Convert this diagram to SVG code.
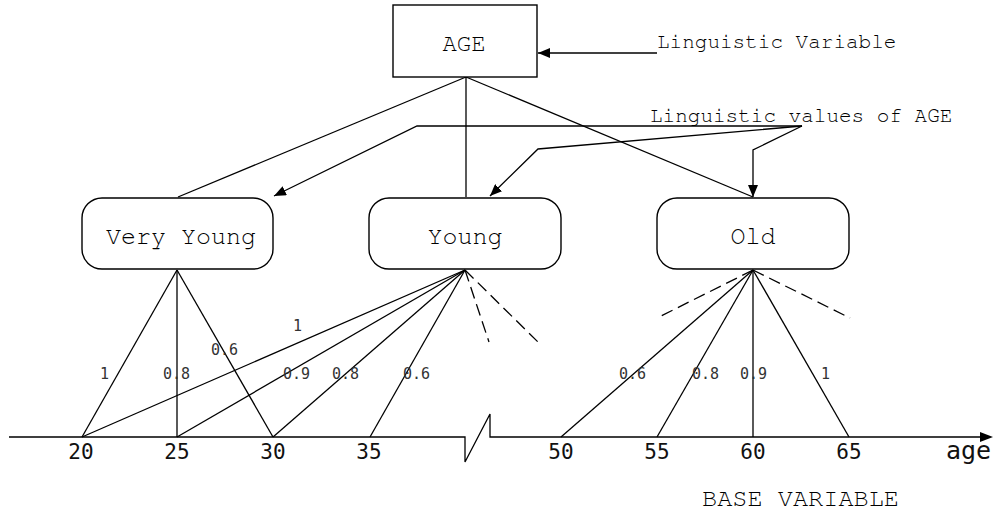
<svg xmlns="http://www.w3.org/2000/svg" width="995" height="512" viewBox="0 0 995 512">
<style>
.ln{stroke:#000;stroke-width:1.3;fill:none}
.dash{stroke:#000;stroke-width:1.3;fill:none;stroke-dasharray:12,6}
.box{stroke:#000;stroke-width:1.4;fill:#fff}
.cour{font-family:"Nimbus Mono PS","Nimbus Mono L","FreeMono","Courier 10 Pitch","Courier","Liberation Mono","Courier New",monospace;fill:#000}
.sm{font-family:"DejaVu Sans Mono",monospace;font-size:15px;fill:#333}
.num{font-family:"DejaVu Sans Mono",monospace;font-size:21px;fill:#111;text-anchor:middle}
</style>
<defs>
<marker id="ah" markerUnits="userSpaceOnUse" markerWidth="13" markerHeight="10" refX="12" refY="5" orient="auto">
<path d="M0,0 L12,5 L0,10 Z" fill="#000"/>
</marker>
</defs>
<g id="connectors">
<line class="ln" x1="466" y1="77" x2="178" y2="197"/>
<line class="ln" x1="466" y1="77" x2="466" y2="197"/>
<line class="ln" x1="466" y1="77" x2="753" y2="197"/>
<line class="ln" x1="657" y1="53" x2="538" y2="53" marker-end="url(#ah)"/>
<polyline class="ln" points="802,126 417,126 274,196" marker-end="url(#ah)"/>
<polyline class="ln" points="802,126 538,149 490,196" marker-end="url(#ah)"/>
<polyline class="ln" points="802,126 753,150 753,197" marker-end="url(#ah)"/>
<line class="ln" x1="177" y1="270" x2="82" y2="437"/>
<line class="ln" x1="177" y1="270" x2="177" y2="437"/>
<line class="ln" x1="177" y1="270" x2="273" y2="437"/>
<line class="ln" x1="465" y1="270" x2="82" y2="437"/>
<line class="ln" x1="465" y1="270" x2="177" y2="437"/>
<line class="ln" x1="465" y1="270" x2="273" y2="437"/>
<line class="ln" x1="465" y1="270" x2="370" y2="437"/>
<line class="dash" x1="465" y1="270" x2="489" y2="342"/>
<line class="dash" x1="465" y1="270" x2="538" y2="342"/>
<line class="ln" x1="753" y1="270" x2="561" y2="437"/>
<line class="ln" x1="753" y1="270" x2="657" y2="437"/>
<line class="ln" x1="753" y1="270" x2="753" y2="437"/>
<line class="ln" x1="753" y1="270" x2="849" y2="437"/>
<line class="dash" x1="753" y1="270" x2="657" y2="318"/>
<line class="dash" x1="753" y1="270" x2="850" y2="318"/>
</g>
<g id="axis">
<polyline class="ln" points="9,437 465,437 465,462 490,414 490,437 982,437"/>
<path d="M980,432 L993,437 L980,442 Z" fill="#000"/>
<text class="num" x="81" y="459">20</text>
<text class="num" x="177" y="459">25</text>
<text class="num" x="273" y="459">30</text>
<text class="num" x="369" y="459">35</text>
<text class="num" x="561" y="459">50</text>
<text class="num" x="657" y="459">55</text>
<text class="num" x="753" y="459">60</text>
<text class="num" x="849" y="459">65</text>
<text x="946" y="459" style="font-family:'DejaVu Sans Mono',monospace;font-size:25px;fill:#111">age</text>
<text class="cour" x="702" y="506" font-size="24" textLength="197" lengthAdjust="spacingAndGlyphs">BASE VARIABLE</text>
</g>
<g id="labels">
<text class="sm" x="100" y="379">1</text>
<text class="sm" x="163" y="379">0.8</text>
<text class="sm" x="211" y="355">0.6</text>
<text class="sm" x="293" y="331">1</text>
<text class="sm" x="283" y="379">0.9</text>
<text class="sm" x="332" y="379">0.8</text>
<text class="sm" x="403" y="379">0.6</text>
<text class="sm" x="619" y="379">0.6</text>
<text class="sm" x="692" y="379">0.8</text>
<text class="sm" x="740" y="379">0.9</text>
<text class="sm" x="821" y="379">1</text>
</g>
<g id="node-age">
<rect class="box" x="393" y="5" width="144" height="72"/>
<text class="cour" x="464" y="51" font-size="24" text-anchor="middle">AGE</text>
</g>
<g id="node-very-young">
<rect class="box" x="82" y="198" width="191" height="71" rx="20"/>
<text class="cour" x="181" y="244" font-size="25" text-anchor="middle">Very Young</text>
</g>
<g id="node-young">
<rect class="box" x="369" y="198" width="192" height="71" rx="20"/>
<text class="cour" x="465" y="244" font-size="25" text-anchor="middle">Young</text>
</g>
<g id="node-old">
<rect class="box" x="657" y="198" width="192" height="71" rx="20"/>
<text class="cour" x="753" y="244" font-size="25" text-anchor="middle">Old</text>
</g>
<g id="annotations">
<text class="cour" x="657" y="48" font-size="21">Linguistic Variable</text>
<text class="cour" x="650" y="122" font-size="21">Linguistic values of AGE</text>
</g>
</svg>
